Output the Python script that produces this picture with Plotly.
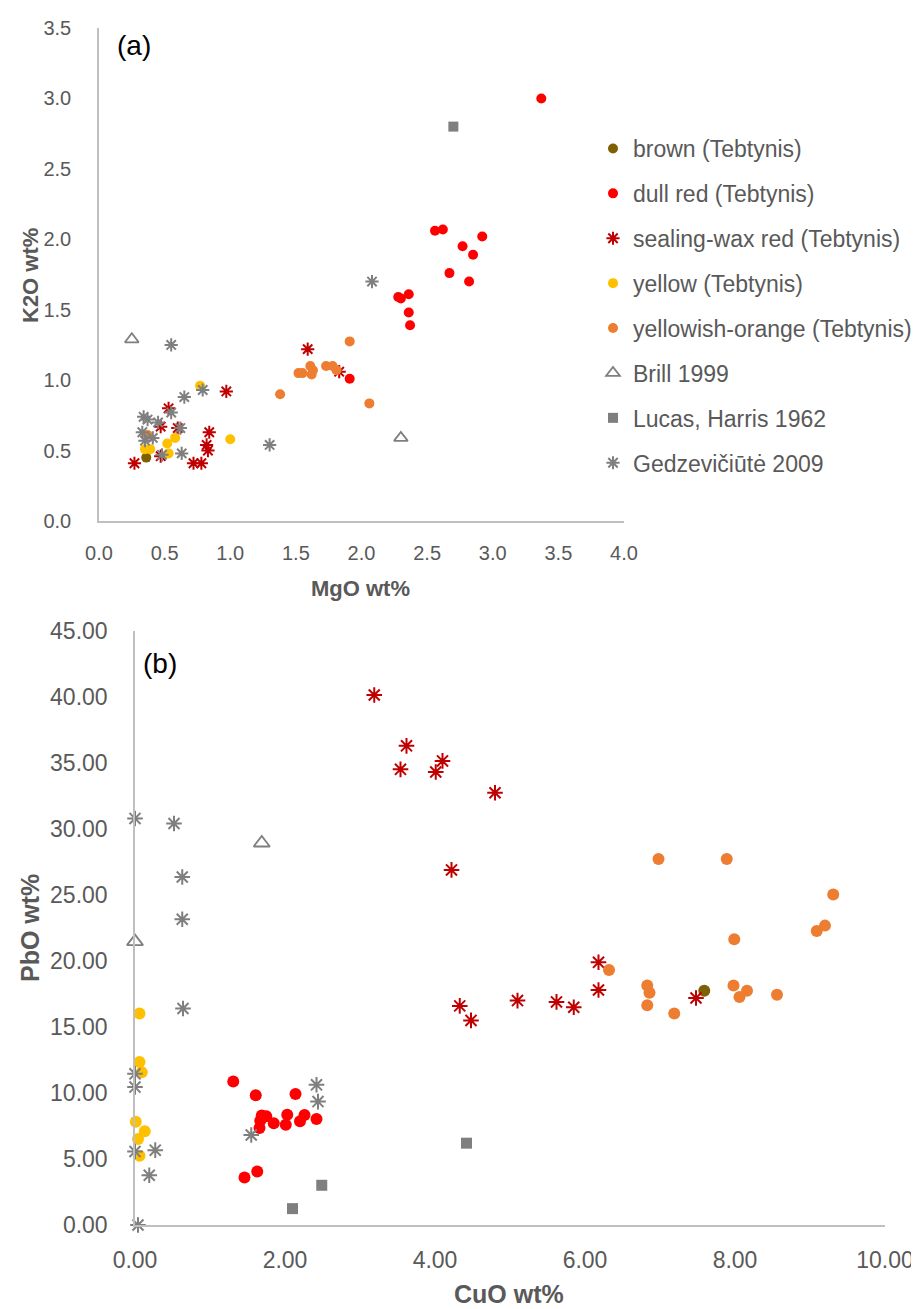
import plotly.graph_objects as go

# ---------------- Panel (a): MgO vs K2O ----------------
a_brown_x = [0.36]
a_brown_y = [0.45]
a_dullred_x = [3.37, 2.56, 2.62, 2.92, 2.77, 2.85, 2.67, 2.82, 2.28, 2.30, 2.36, 2.36, 2.37, 1.91]
a_dullred_y = [3.00, 2.06, 2.07, 2.02, 1.95, 1.89, 1.76, 1.70, 1.59, 1.58, 1.61, 1.48, 1.39, 1.01]
a_swred_x = [1.59, 1.83, 0.97, 0.53, 0.47, 0.60, 0.84, 0.82, 0.83, 0.27, 0.47, 0.72, 0.78]
a_swred_y = [1.22, 1.06, 0.92, 0.80, 0.67, 0.66, 0.63, 0.54, 0.50, 0.41, 0.46, 0.41, 0.41]
a_yellow_x = [0.77, 1.00, 0.58, 0.52, 0.53, 0.35, 0.39]
a_yellow_y = [0.96, 0.58, 0.59, 0.55, 0.48, 0.51, 0.51]
a_orange_x = [1.91, 1.52, 1.55, 1.61, 1.62, 1.63, 1.73, 1.78, 1.81, 1.38, 2.06, 0.37]
a_orange_y = [1.275, 1.05, 1.05, 1.10, 1.04, 1.07, 1.10, 1.10, 1.07, 0.90, 0.835, 0.61]
a_brill_x = [0.25, 2.30]
a_brill_y = [1.29, 0.59]
a_lucas_x = [2.70]
a_lucas_y = [2.80]
a_gedz_x = [0.55, 0.65, 0.79, 0.34, 0.37, 0.45, 0.33, 0.41, 0.35, 0.55, 0.62, 0.48, 0.63, 1.30, 2.08]
a_gedz_y = [1.25, 0.88, 0.93, 0.74, 0.72, 0.70, 0.63, 0.59, 0.57, 0.77, 0.66, 0.47, 0.48, 0.54, 1.70]

# ---------------- Panel (b): CuO vs PbO ----------------
b_brown_x = [7.59]
b_brown_y = [17.74]
b_dullred_x = [1.31, 1.61, 2.14, 1.66, 1.67, 1.69, 1.75, 1.85, 2.01, 2.03, 2.20, 2.26, 2.42, 1.46, 1.63]
b_dullred_y = [10.87, 9.83, 9.93, 7.35, 7.90, 8.29, 8.23, 7.70, 7.60, 8.35, 7.86, 8.33, 8.03, 3.60, 4.05]
b_swred_x = [3.19, 3.62, 3.54, 4.10, 4.01, 4.80, 4.22, 4.33, 4.48, 5.10, 5.62, 5.85, 6.18, 6.18, 7.48]
b_swred_y = [40.15, 36.30, 34.52, 35.16, 34.32, 32.75, 26.9, 16.6, 15.5, 17.0, 16.9, 16.5, 17.8, 19.9, 17.2]
b_yellow_x = [0.06, 0.06, 0.09, 0.01, 0.13, 0.04, 0.06]
b_yellow_y = [16.02, 12.34, 11.58, 7.83, 7.10, 6.51, 5.25]
b_orange_x = [6.98, 7.89, 9.31, 9.20, 9.09, 7.99, 6.32, 6.83, 6.86, 6.83, 7.19, 7.98, 8.16, 8.06, 8.56]
b_orange_y = [27.73, 27.73, 25.04, 22.68, 22.28, 21.64, 19.31, 18.15, 17.59, 16.65, 16.02, 18.15, 17.74, 17.28, 17.44]
b_brill_x = [1.69, 0.00]
b_brill_y = [28.94, 21.47]
b_lucas_x = [2.10, 2.49, 4.42]
b_lucas_y = [1.24, 3.01, 6.20]
b_gedz_x = [0.00, 0.52, 0.63, 0.63, 0.64, 0.00, 0.00, 0.00, 0.27, 0.19, 0.04, 1.55, 2.42, 2.44]
b_gedz_y = [30.80, 30.42, 26.36, 23.16, 16.40, 11.45, 10.45, 5.57, 5.67, 3.77, 0.00, 6.82, 10.62, 9.35]

series_names = ["brown (Tebtynis)", "dull red (Tebtynis)", "sealing-wax red (Tebtynis)",
                "yellow (Tebtynis)", "yellowish-orange (Tebtynis)", "Brill 1999",
                "Lucas, Harris 1962", "Gedzevičiūtė 2009"]

GRAY = "#7F7F7F"
AX = "#BFBFBF"
TXT = "#595959"
NARROW = "Liberation Sans Narrow, Arial Narrow, Liberation Sans, Arial, sans-serif"
SANS = "Liberation Sans, Arial, sans-serif"

styles = [
    dict(symbol="circle", color="#7F6000", size=(10, 12)),
    dict(symbol="circle", color="#FF0000", size=(10, 12)),
    dict(symbol="asterisk-open", color="#C00000", size=(11, 13)),
    dict(symbol="circle", color="#FFC000", size=(10, 12)),
    dict(symbol="circle", color="#ED7D31", size=(10, 12)),
    dict(symbol="triangle-up-open", color=GRAY, size=(12, 14)),
    dict(symbol="square", color=GRAY, size=(10, 11)),
    dict(symbol="asterisk-open", color=GRAY, size=(11, 13)),
]

a_data = [(a_brown_x, a_brown_y), (a_dullred_x, a_dullred_y), (a_swred_x, a_swred_y),
          (a_yellow_x, a_yellow_y), (a_orange_x, a_orange_y), (a_brill_x, a_brill_y),
          (a_lucas_x, a_lucas_y), (a_gedz_x, a_gedz_y)]
b_data = [(b_brown_x, b_brown_y), (b_dullred_x, b_dullred_y), (b_swred_x, b_swred_y),
          (b_yellow_x, b_yellow_y), (b_orange_x, b_orange_y), (b_brill_x, b_brill_y),
          (b_lucas_x, b_lucas_y), (b_gedz_x, b_gedz_y)]

fig = go.Figure()

def marker(st, sz):
    if st["symbol"] in ("asterisk-open", "triangle-up-open"):
        return dict(symbol=st["symbol"], size=sz, color=st["color"],
                    line=dict(color=st["color"], width=2 if "asterisk" in st["symbol"] else 1.8))
    return dict(symbol=st["symbol"], size=sz, color=st["color"], line=dict(width=0))

for i, (name, st) in enumerate(zip(series_names, styles)):
    x, y = a_data[i]
    fig.add_trace(go.Scatter(x=x, y=y, mode="markers", name=name, legendgroup=name,
                             marker=marker(st, st["size"][0]), xaxis="x", yaxis="y",
                             cliponaxis=False))
for i, (name, st) in enumerate(zip(series_names, styles)):
    x, y = b_data[i]
    fig.add_trace(go.Scatter(x=x, y=y, mode="markers", name=name, legendgroup=name,
                             showlegend=False, cliponaxis=False,
                             marker=marker(st, st["size"][1]), xaxis="x2", yaxis="y2"))

W, H = 919, 1309
def px(x):
    return x / W
def py(y):
    return 1 - y / H

axis_common = dict(showgrid=False, zeroline=False, showline=True, linecolor=AX, linewidth=1.5,
                   ticks="", color=TXT, automargin=False)

def note(text, x, y, size, family=SANS, color=TXT, angle=0):
    return dict(text=text, x=px(x), y=py(y), xref="paper", yref="paper", showarrow=False,
                xanchor="center", yanchor="middle", textangle=angle,
                font=dict(family=family, size=size, color=color))

fig.update_layout(
    template="none",
    width=W, height=H,
    margin=dict(l=0, r=0, t=0, b=0, pad=0, autoexpand=False),
    paper_bgcolor="white", plot_bgcolor="white",
    showlegend=True,
    legend=dict(x=px(585), y=py(119), xanchor="left", yanchor="top",
                font=dict(family=SANS, size=23, color=TXT),
                traceorder="grouped", tracegroupgap=12, bgcolor="rgba(0,0,0,0)",
                itemclick=False, itemdoubleclick=False),
    xaxis=dict(domain=[px(91), px(616)], range=[0, 4.0], dtick=0.5, tickformat=".1f",
               anchor="y", tickfont=dict(family=NARROW, size=20, color=TXT),
               ticklabelstandoff=13, **axis_common),
    yaxis=dict(domain=[py(513), py(20)], range=[0, 3.5], dtick=0.5, tickformat=".1f",
               anchor="x", tickfont=dict(family=NARROW, size=20, color=TXT),
               ticklabelstandoff=22, **axis_common),
    xaxis2=dict(domain=[px(127), px(877)], range=[0, 10], dtick=2, tickformat=".2f",
                anchor="y2", tickfont=dict(family=NARROW, size=23, color=TXT),
                ticklabelstandoff=14, **axis_common),
    yaxis2=dict(domain=[py(1217), py(623)], range=[0, 45], dtick=5, tickformat=".2f",
                anchor="x2", tickfont=dict(family=NARROW, size=23, color=TXT),
                ticklabelstandoff=21, **axis_common),
    annotations=[
        note("(a)", 126, 38, 28, color="black"),
        note("(b)", 152, 655, 28, color="black"),
        note("<b>K2O wt%</b>", 22, 268, 22, angle=-90),
        note("<b>MgO wt%</b>", 352, 580, 22),
        note("<b>PbO wt%</b>", 22, 920, 25, angle=-90),
        note("<b>CuO wt%</b>", 501, 1286, 25),
    ],
)

fig.write_html("out.html")
